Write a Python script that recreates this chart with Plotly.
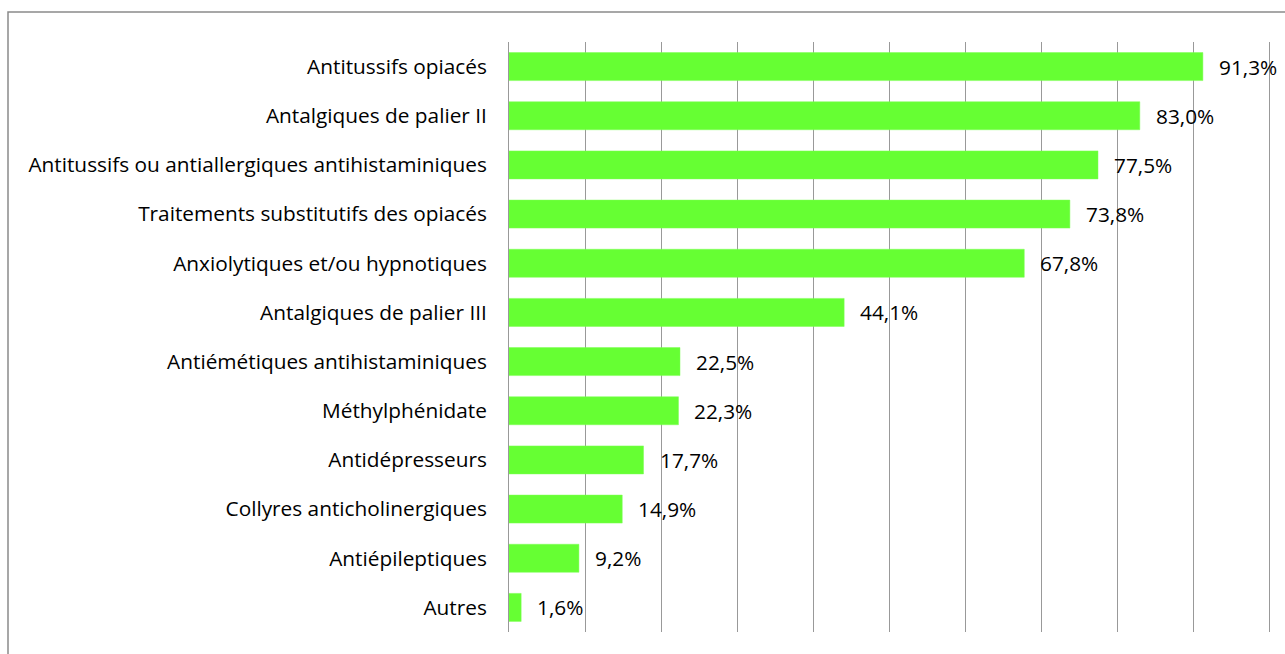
import plotly.graph_objects as go

categories = [
    "Antitussifs opiacés",
    "Antalgiques de palier II",
    "Antitussifs ou antiallergiques antihistaminiques",
    "Traitements substitutifs des opiacés",
    "Anxiolytiques et/ou hypnotiques",
    "Antalgiques de palier III",
    "Antiémétiques antihistaminiques",
    "Méthylphénidate",
    "Antidépresseurs",
    "Collyres anticholinergiques",
    "Antiépileptiques",
    "Autres",
]
values = [91.3, 83.0, 77.5, 73.8, 67.8, 44.1, 22.5, 22.3, 17.7, 14.9, 9.2, 1.6]

labels = [f"{v:.1f}%".replace(".", ",") for v in values]

FONT = "Open Sans, sans-serif"
FS = 20.8
W, H = 1285, 654
L, R, T, B = 509, 16, 42, 22
pw, ph = W - L - R, H - T - B

fig = go.Figure(
    go.Bar(
        x=values,
        y=categories,
        orientation="h",
        marker=dict(color="#66FF33", line=dict(color="#7dff55", width=0.5)),
        width=0.57,
    )
)

for v, c, t in zip(values, categories, labels):
    fig.add_annotation(
        x=v, y=c, text=t, showarrow=False, xanchor="left", xshift=14,
        font=dict(family=FONT, size=FS, color="#000"),
    )

# outer chart frame (left and top edges visible)
fig.add_shape(
    type="rect", xref="paper", yref="paper",
    x0=(8 - L) / pw, x1=(W + 10 - L) / pw,
    y0=(H - B - (H + 10)) / ph, y1=(H - B - 12) / ph,
    line=dict(color="#8a8a8a", width=1.5), layer="below",
)

fig.update_layout(
    width=W, height=H,
    margin=dict(l=L, r=R, t=T, b=B),
    paper_bgcolor="white", plot_bgcolor="white",
    showlegend=False,
    font=dict(family=FONT, size=FS, color="#000"),
)
fig.update_xaxes(
    range=[0, 100], dtick=10, showticklabels=False, showgrid=True,
    gridcolor="#999999", gridwidth=1, zeroline=False, showline=False, ticks="",
)
fig.update_yaxes(
    categoryorder="array", categoryarray=categories[::-1],
    autorange=True, showgrid=False, ticks="", ticklabelstandoff=17,
    showline=True, mirror=True, linecolor="#999999", linewidth=1,
    zeroline=False,
)

fig.write_html("out.html")
